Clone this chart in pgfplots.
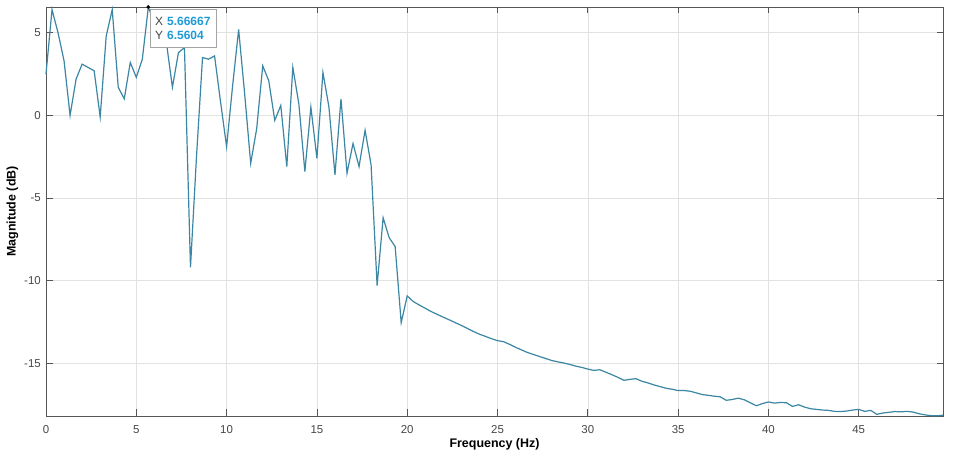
\documentclass[border=0pt]{standalone}
\usepackage{pgfplots}
\pgfplotsset{compat=1.18}
\usepackage{fontspec}
\setmainfont{Liberation Sans}
\definecolor{linec}{RGB}{58,134,163}
\definecolor{tipblue}{RGB}{30,155,215}
\definecolor{axc}{RGB}{85,85,85}
\definecolor{tickc}{RGB}{70,70,70}
\definecolor{gridc}{RGB}{226,226,226}
\definecolor{tipborder}{RGB}{165,165,165}
\begin{document}
\begin{tikzpicture}
\path[use as bounding box] (-46bp,-44bp) rectangle (909bp,416bp);
\begin{axis}[
  at={(0,0)}, anchor=south west,
  scale only axis, width=897bp, height=409bp,
  xmin=0, xmax=49.6667, ymin=-18.2, ymax=6.5604,
  xtick={0,5,10,15,20,25,30,35,40,45},
  xticklabels={0,5,10,15,20,25,30,35,40,45},
  ytick={-15,-10,-5,0,5},
  yticklabels={-15,-10,-5,0,5},
  grid=major,
  major grid style={gridc, line width=0.6bp},
  axis line style={axc, line width=0.8bp},
  tick style={axc, line width=0.8bp},
  major tick length=6.5bp,
  tick align=inside,
  xtick pos=both, ytick pos=both,
  ticklabel style={font=\fontsize{11.5}{13}\selectfont, text=tickc},
  xticklabel style={anchor=north, inner sep=0pt, yshift=-9bp},
  yticklabel style={anchor=east, inner sep=0pt, xshift=-5bp},
  xlabel={\textbf{Frequency (Hz)}},
  ylabel={\textbf{Magnitude (dB)}},
  label style={font=\fontsize{12.5}{14}\selectfont},
  xlabel style={at={(axis description cs:0.5,-0.0685)}, anchor=center},
  ylabel style={at={(axis description cs:-0.0374,0.5)}, anchor=center},
  clip=false,
]
\addplot[linec, line width=1.2bp] coordinates {
(0,2.5) (0.3333,6.4) (0.6667,5.0) (1,3.3) (1.3333,0.0) (1.6667,2.2) (2,3.1) (2.3333,2.9) (2.6667,2.7) (3,-0.1)
(3.3333,4.8) (3.6667,6.4) (4,1.7) (4.3333,1.0) (4.6667,3.2) (5,2.3) (5.3333,3.4) (5.6667,6.5604) (6,5.6) (6.3333,4.9)
(6.6667,4.4) (7,1.7) (7.3333,3.8) (7.6667,4.1) (8,-9.2) (8.3333,-2.5) (8.6667,3.5) (9,3.4) (9.3333,3.6) (9.6667,0.8)
(10,-1.9) (10.3333,1.8) (10.6667,5.2) (11,1.3) (11.3333,-2.9) (11.6667,-0.8) (12,3.0) (12.3333,2.1) (12.6667,-0.3) (13,0.6)
(13.3333,-3.1) (13.6667,2.9) (14,0.7) (14.3333,-3.4) (14.6667,0.5) (15,-2.6) (15.3333,2.6) (15.6667,0.5) (16,-3.6) (16.3333,1.0)
(16.6667,-3.5) (17,-1.7) (17.3333,-3.1) (17.6667,-0.9) (18,-3.0) (18.3333,-10.3) (18.6667,-6.2) (19,-7.4) (19.3333,-7.95) (19.6667,-12.55)
(20,-10.93) (20.3333,-11.27) (20.6667,-11.48) (21,-11.68) (21.3333,-11.88) (21.6667,-12.05) (22,-12.22) (22.3333,-12.38) (22.6667,-12.55) (23,-12.72)
(23.3333,-12.90) (23.6667,-13.08) (24,-13.25) (24.3333,-13.38) (24.6667,-13.52) (25,-13.64) (25.3333,-13.70) (25.6667,-13.86) (26,-14.04) (26.3333,-14.20)
(26.6667,-14.36) (27,-14.48) (27.3333,-14.60) (27.6667,-14.72) (28,-14.84) (28.3333,-14.92) (28.6667,-14.99) (29,-15.08) (29.3333,-15.18) (29.6667,-15.26)
(30,-15.36) (30.3333,-15.44) (30.6667,-15.40) (31,-15.55) (31.3333,-15.70) (31.6667,-15.86) (32,-16.04) (32.3333,-15.98) (32.6667,-15.94) (33,-16.10)
(33.3333,-16.20) (33.6667,-16.32) (34,-16.42) (34.3333,-16.52) (34.6667,-16.58) (35,-16.66) (35.3333,-16.66) (35.6667,-16.70) (36,-16.80) (36.3333,-16.90)
(36.6667,-16.95) (37,-17.00) (37.3333,-17.04) (37.6667,-17.25) (38,-17.20) (38.3333,-17.12) (38.6667,-17.22) (39,-17.40) (39.3333,-17.58) (39.6667,-17.45)
(40,-17.35) (40.3333,-17.42) (40.6667,-17.38) (41,-17.40) (41.3333,-17.62) (41.6667,-17.52) (42,-17.66) (42.3333,-17.76) (42.6667,-17.80) (43,-17.84)
(43.3333,-17.86) (43.6667,-17.92) (44,-17.93) (44.3333,-17.90) (44.6667,-17.84) (45,-17.80) (45.3333,-17.92) (45.6667,-17.86) (46,-18.10) (46.3333,-18.02)
(46.6667,-17.98) (47,-17.93) (47.3333,-17.95) (47.6667,-17.92) (48,-17.96) (48.3333,-18.06) (48.6667,-18.13) (49,-18.18) (49.3333,-18.19) (49.6667,-18.15)
};
\addplot[only marks, mark=*, mark size=1.6bp, black] coordinates {(5.6667,6.5604)}
  node[anchor=north west, xshift=1.5bp, yshift=-2bp, draw=tipborder, fill=white, line width=0.8bp,
       minimum width=66bp, minimum height=38bp, inner xsep=5bp, inner ysep=3bp,
       text width=56bp, align=left, font=\fontsize{12}{14}\selectfont]
  {{\color{tickc}X} {\color{tipblue}\textbf{5.66667}}\\{\color{tickc}Y} {\color{tipblue}\textbf{6.5604}}};
\end{axis}
\end{tikzpicture}
\end{document}
